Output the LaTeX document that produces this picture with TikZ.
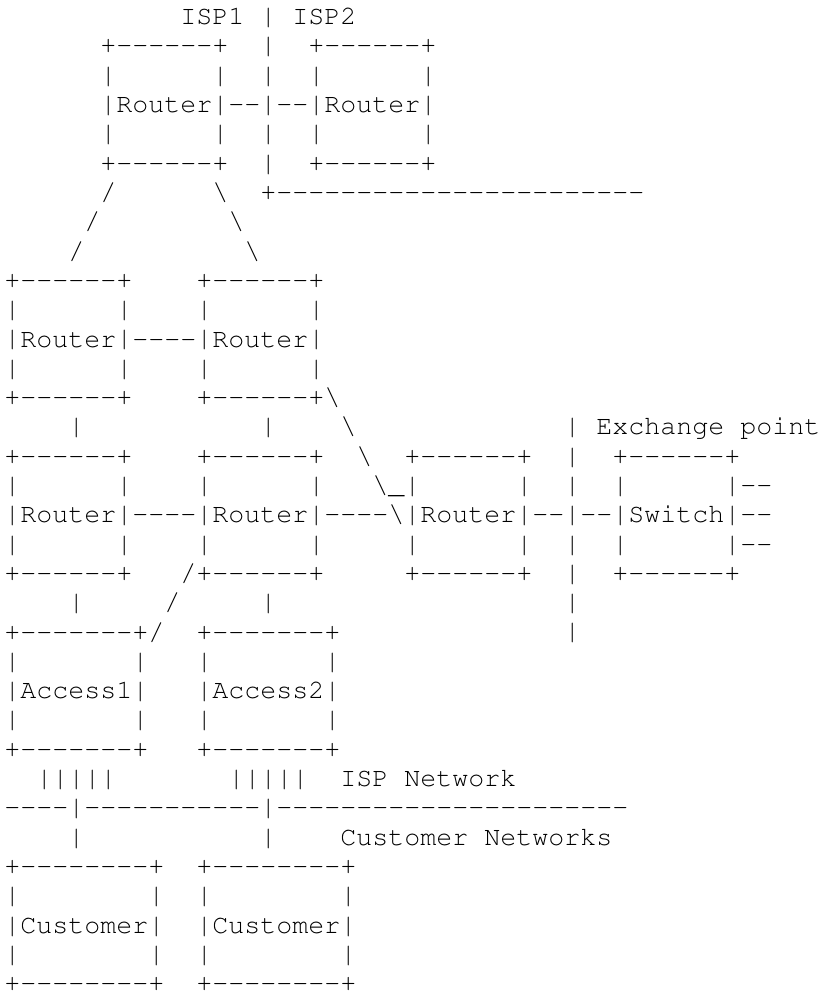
\documentclass[tikz,border=0pt]{standalone}
\usepackage[T1]{fontenc}
\usepackage{courier}
\usepackage{graphicx}
\newcommand\bs{\textbackslash}
\newcommand\D[1]{\foreach\dashi in {1,...,#1}{-\kern0pt}}
\newsavebox\barbox
\newcommand\B{\sbox\barbox{\resizebox*{\width}{20pt}{|}}%
  \raisebox{\dimexpr\dp\barbox-5pt\relax}{\usebox\barbox}}
\newcommand\nodp[1]{\raisebox{0pt}[\height][0pt]{#1}}
\begin{document}
\begin{tikzpicture}[x=0.75pt,y=0.75pt,
  ascii/.style={anchor=base west,inner sep=0pt,outer sep=0pt,
    font=\ttfamily\fontsize{20}{20}\selectfont}]
\useasboundingbox (0,0) rectangle (823,-993);
\def\lx{4.5}
\def\ly#1{-(24.59+(#1-1)*29.31)}
\node[ascii] (r1)  at (\lx,{\ly{1}})  {~~~~~~~~~~~ISP1~\B~ISP2};
\node[ascii] (r2)  at (\lx,{\ly{2}})  {~~~~~~+\D{6}+~~\B~~+\D{6}+};
\node[ascii] (r3)  at (\lx,{\ly{3}})  {~~~~~~\B~~~~~~\B~~\B~~\B~~~~~~\B};
\node[ascii] (r4)  at (\lx,{\ly{4}})  {~~~~~~\B Router\B\D{2}\B\D{2}\B Router\B};
\node[ascii] (r5)  at (\lx,{\ly{5}})  {~~~~~~\B~~~~~~\B~~\B~~\B~~~~~~\B};
\node[ascii] (r6)  at (\lx,{\ly{6}})  {~~~~~~+\D{6}+~~\B~~+\D{6}+};
\node[ascii] (r7)  at (\lx,{\ly{7}})  {~~~~~~/~~~~~~\bs~~+\D{23}};
\node[ascii] (r8)  at (\lx,{\ly{8}})  {~~~~~/~~~~~~~~\bs};
\node[ascii] (r9)  at (\lx,{\ly{9}})  {~~~~/~~~~~~~~~~\bs};
\node[ascii] (r10) at (\lx,{\ly{10}}) {+\D{6}+~~~~+\D{6}+};
\node[ascii] (r11) at (\lx,{\ly{11}}) {\B~~~~~~\B~~~~\B~~~~~~\B};
\node[ascii] (r12) at (\lx,{\ly{12}}) {\B Router\B\D{4}\B Router\B};
\node[ascii] (r13) at (\lx,{\ly{13}}) {\B~~~~~~\B~~~~\B~~~~~~\B};
\node[ascii] (r14) at (\lx,{\ly{14}}) {+\D{6}+~~~~+\D{6}+\bs};
\node[ascii] (r15) at (\lx,{\ly{15}}) {~~~~\B~~~~~~~~~~~\B~~~~\bs~~~~~~~~~~~~~\B~Exchange~point};
\node[ascii] (r16) at (\lx,{\ly{16}}) {+\D{6}+~~~~+\D{6}+~~\bs~~+\D{6}+~~\B~~+\D{6}+};
\node[ascii] (r17) at (\lx,{\ly{17}}) {\B~~~~~~\B~~~~\B~~~~~~\B~~~\bs\_\B~~~~~~\B~~\B~~\B~~~~~~\B\D{2}};
\node[ascii] (r18) at (\lx,{\ly{18}}) {\B Router\B\D{4}\B Router\B\D{4}\bs\B Router\B\D{2}\B\D{2}\B Switch\B\D{2}};
\node[ascii] (r19) at (\lx,{\ly{19}}) {\B~~~~~~\B~~~~\B~~~~~~\B~~~~~\B~~~~~~\B~~\B~~\B~~~~~~\B\D{2}};
\node[ascii] (r20) at (\lx,{\ly{20}}) {+\D{6}+~~~/+\D{6}+~~~~~+\D{6}+~~\B~~+\D{6}+};
\node[ascii] (r21) at (\lx,{\ly{21}}) {~~~~\B~~~~~/~~~~~\B~~~~~~~~~~~~~~~~~~\B};
\node[ascii] (r22) at (\lx,{\ly{22}}) {+\D{7}+/~~+\D{7}+~~~~~~~~~~~~~~\B};
\node[ascii] (r23) at (\lx,{\ly{23}}) {\B~~~~~~~\B~~~\B~~~~~~~\B};
\node[ascii] (r24) at (\lx,{\ly{24}}) {\B Access1\B~~~\B Access2\B};
\node[ascii] (r25) at (\lx,{\ly{25}}) {\B~~~~~~~\B~~~\B~~~~~~~\B};
\node[ascii] (r26) at (\lx,{\ly{26}}) {+\D{7}+~~~+\D{7}+};
\node[ascii] (r27) at (\lx,{\ly{27}}) {~~\B\B\B\B\B~~~~~~~\B\B\B\B\B~~ISP~Network};
\node[ascii] (r28) at (\lx,{\ly{28}}) {\D{4}\B\D{11}\B\D{22}};
\node[ascii] (r29) at (\lx,{\ly{29}}) {~~~~\B~~~~~~~~~~~\B~~~~Customer~Networks};
\node[ascii] (r30) at (\lx,{\ly{30}}) {+\D{8}+~~+\D{8}+};
\node[ascii] (r31) at (\lx,{\ly{31}}) {\B~~~~~~~~\B~~\B~~~~~~~~\B};
\node[ascii] (r32) at (\lx,{\ly{32}}) {\B Customer\B~~\B Customer\B};
\node[ascii] (r33) at (\lx,{\ly{33}}) {\B~~~~~~~~\B~~\B~~~~~~~~\B};
\node[ascii] (r34) at (\lx,{\ly{34}}) {\nodp{+\D{8}+~~+\D{8}+}};
\end{tikzpicture}
\end{document}
